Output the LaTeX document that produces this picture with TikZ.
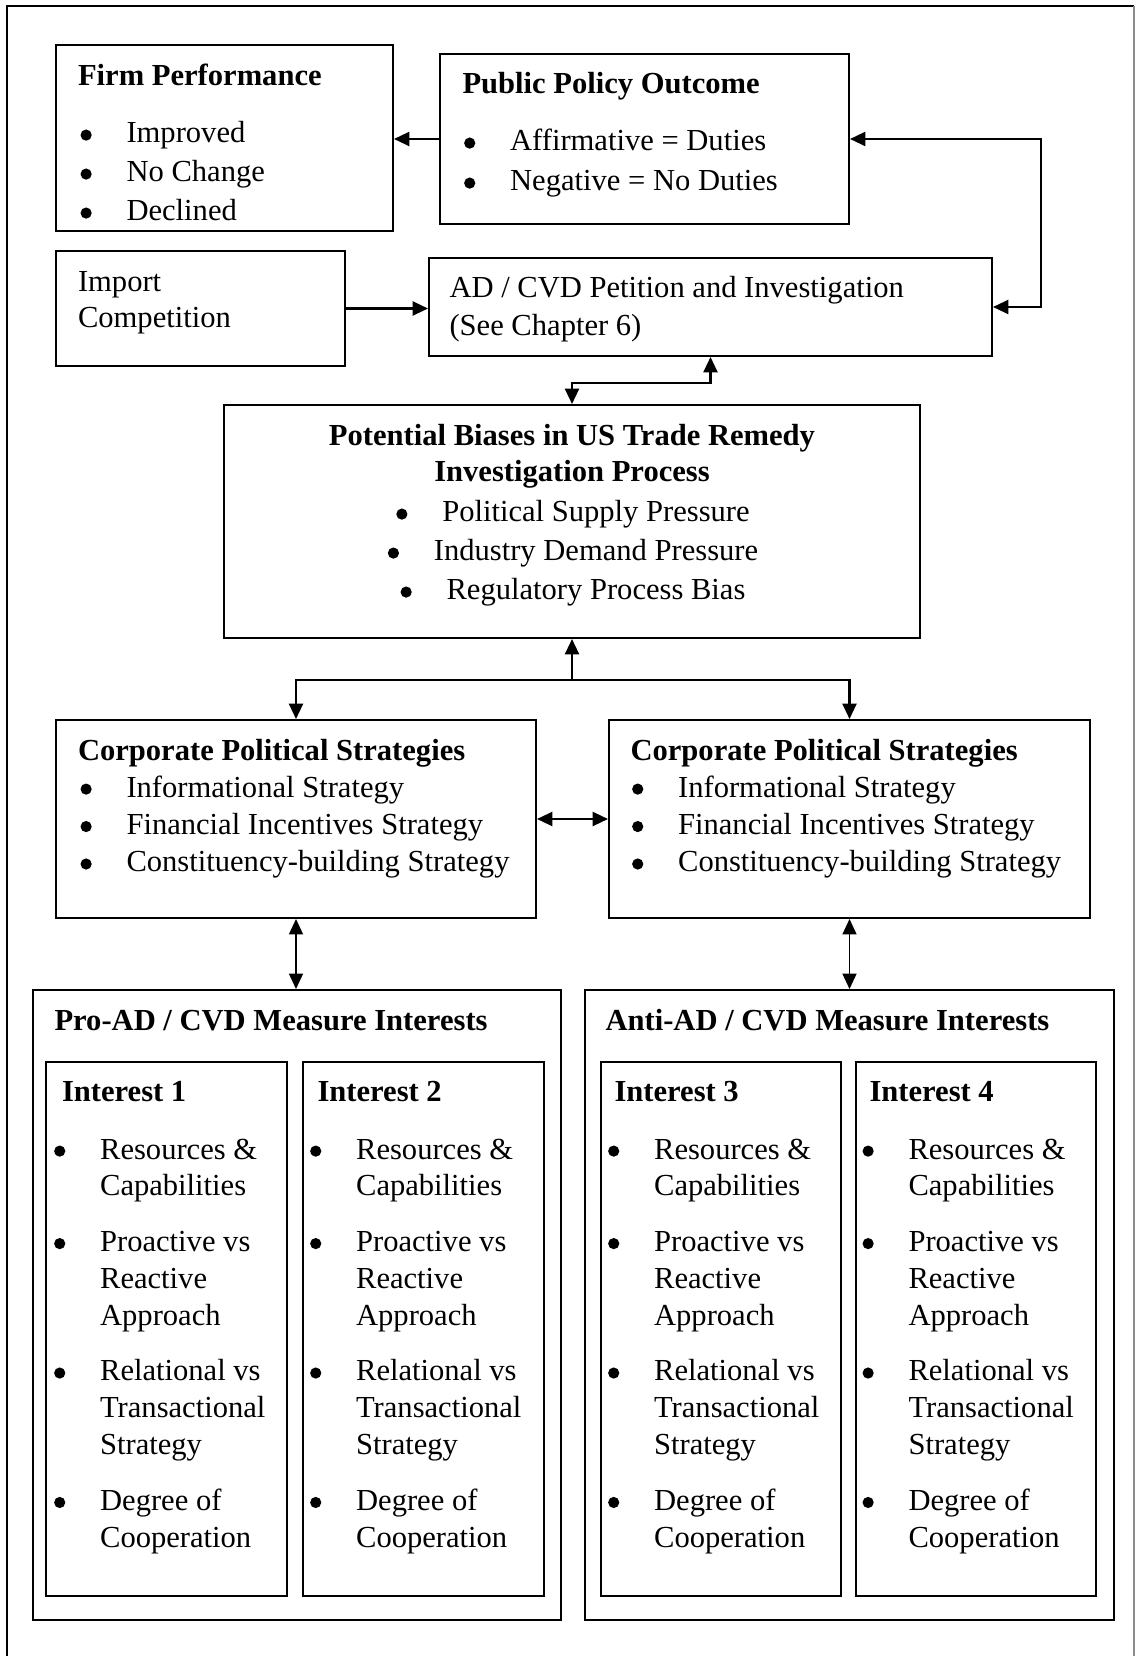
\documentclass[tikz,border=0pt]{standalone}
\usepackage{fontspec}
\setmainfont{Liberation Serif}
\usetikzlibrary{arrows.meta,fit}

\newlength\pxunit
\setlength\pxunit{0.0138cm}
% round bullet, as large as the Word one
\newcommand{\bul}{\tikz[baseline=0pt]\fill (2pt,3.1pt) circle (2.2pt);}
% stacked lines: column spec, line spacing, rows
\newcommand{\tlines}[3]{{\fontsize{12}{#2}\selectfont\begin{tabular}[t]{@{}#1@{}}#3\end{tabular}}}
% bullet list with hanging text column
\newcommand{\blist}[2]{\tlines{p{46\pxunit}@{}l}{#1}{#2}}
\newcommand{\pbul}{\makebox[46\pxunit][l]{\bul}}
\newcommand{\interestitems}{%
  \bul & Resources \& \\ & Capabilities \\[7.3pt]
  \bul & Proactive vs \\ & Reactive \\ & Approach \\[7.3pt]
  \bul & Relational vs \\ & Transactional \\ & Strategy \\[7.3pt]
  \bul & Degree of \\ & Cooperation}

\begin{document}
\begin{tikzpicture}
  [x=\pxunit, y=-\pxunit,
  box/.style={draw, line width=0.8pt, inner sep=0pt},
  txt/.style={inner sep=0pt, anchor=base west, font=\fontsize{12}{14.5}\selectfont},
  hd/.style={txt, font=\fontsize{12}{14.5}\selectfont\bfseries},
  post/.style={-{Triangle[length=6pt,width=5.5pt]}, line width=0.8pt},
  both/.style={{Triangle[length=6pt,width=5.5pt]}-{Triangle[length=6pt,width=5.5pt]}, line width=0.8pt}]

  \useasboundingbox (0,0) rectangle (1135,1656);

  % page frame, open at the bottom
  \draw[line width=0.8pt] (7,1656) -- (7,6) -- (1134,6);
  \draw[black!45, line width=0.5pt] (1134,6) -- (1134,1656);

  % top row
  \node[box, fit={(56,45) (393,231)}] (firm) {};
  \node[hd] (firmhd) at (77.5,86) {Firm Performance};
  \node[txt] (firmls) at (80,143) {\blist{15.3pt}{\bul & Improved\\ \bul & No Change\\ \bul & Declined}};

  \node[box, fit={(440,54) (849,224)}] (pub) {};
  \node[hd] (pubhd) at (462,94) {Public Policy Outcome};
  \node[txt] (publs) at (463.6,151) {\blist{15.7pt}{\bul & Affirmative = Duties\\ \bul & Negative = No Duties}};

  \node[box, fit={(56,251) (345,366)}] (imp) {};
  \node[txt] (imptx) at (77.5,292) {\tlines{l}{14.1pt}{Import\\ Competition}};

  \node[box, fit={(429,258) (992,356)}] (ad) {};
  \node[txt] (adtx) at (449,298) {\tlines{l}{14.7pt}{AD / CVD Petition and Investigation\\ (See Chapter 6)}};

  % biases
  \node[box, fit={(224,405) (920,638)}] (pot) {};
  \node[hd, anchor=base] (pothd) at (572,446) {\tlines{c}{14.1pt}{Potential Biases in US Trade Remedy\\ Investigation Process}};
  \node[txt, anchor=base] (potls) at (573,522) {\tlines{c}{15.3pt}{\pbul Political Supply Pressure\\ \pbul Industry Demand Pressure\\ \pbul Regulatory Process Bias}};

  % strategies
  \node[box, fit={(56,720) (536,918)}] (cpsl) {};
  \node[hd] (cpslhd) at (77.5,760) {Corporate Political Strategies};
  \node[txt] (cpslls) at (80,797) {\blist{14.7pt}{\bul & Informational Strategy\\ \bul & Financial Incentives Strategy\\ \bul & Constituency-building Strategy}};

  \node[box, fit={(609,720) (1090,918)}] (cpsr) {};
  \node[hd] (cpsrhd) at (630,760) {Corporate Political Strategies};
  \node[txt] (cpsrls) at (631.6,797) {\blist{14.7pt}{\bul & Informational Strategy\\ \bul & Financial Incentives Strategy\\ \bul & Constituency-building Strategy}};

  % interest groups
  \node[box, fit={(33,990) (561,1620)}] (pro) {};
  \node[hd] (prohd) at (54,1030) {Pro-AD / CVD Measure Interests};
  \node[box, fit={(585,990) (1114,1620)}] (anti) {};
  \node[hd] (antihd) at (605,1030) {Anti-AD / CVD Measure Interests};

  \node[box, fit={(46,1062) (287,1596)}] (inta) {};
  \node[hd] (intahd) at (61.5,1101) {Interest 1};
  \node[txt] (intals) at (53.6,1159) {\blist{14.5pt}{\interestitems}};
  \node[box, fit={(303,1062) (544,1596)}] (intb) {};
  \node[hd] (intbhd) at (317,1101) {Interest 2};
  \node[txt] (intbls) at (309.6,1159) {\blist{14.5pt}{\interestitems}};
  \node[box, fit={(601,1062) (841,1596)}] (intc) {};
  \node[hd] (intchd) at (614,1101) {Interest 3};
  \node[txt] (intcls) at (607.6,1159) {\blist{14.5pt}{\interestitems}};
  \node[box, fit={(856,1062) (1096,1596)}] (intd) {};
  \node[hd] (intdhd) at (869,1101) {Interest 4};
  \node[txt] (intdls) at (862,1159) {\blist{14.5pt}{\interestitems}};

  % connectors
  \draw[post] (pub.west) -- (pub.west -| firm.east);
  \coordinate (loop) at (1041,139);
  \draw[both] (pub.east) -- (loop) |- (ad.east);
  \draw[post] (imp.east) -- (imp.east -| ad.west);
  \draw[both] (ad.south) -- ++(0,26) -| (pot.north);

  \path (pot.south) ++(0,41) coordinate (split);
  \draw[post] (split) -- (pot.south);
  \draw[post] (split) -| (cpsl.north);
  \draw[post] (split) -| (cpsr.north);
  \draw[both] (cpsl.east) -- (cpsr.west);

  \draw[both, line width=0.5pt] (cpsl.south) -- (cpsl.south |- pro.north);
  \draw[both, line width=0.5pt] (cpsr.south) -- (cpsr.south |- anti.north);
\end{tikzpicture}
\end{document}
